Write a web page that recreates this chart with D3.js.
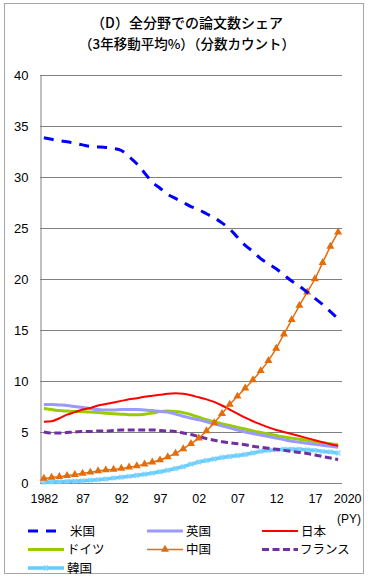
<!DOCTYPE html>
<html>
<head>
<meta charset="utf-8">
<script src="https://cdn.jsdelivr.net/npm/d3@7"></script>
<style>
  body { margin: 0; background: #fff; }
  text { font-family: Arial, "Liberation Sans", "Noto Sans CJK JP", sans-serif; fill: #000; }
  .jp { font-family: "Noto Sans CJK JP", sans-serif; }
</style>
</head>
<body>
<div class="container"></div>
<script>
// years 1982..2020
const years = d3.range(1982, 2021);
const tickYears = [1982, 1987, 1992, 1997, 2002, 2007, 2012, 2017, 2020];
const tickLabels = ["1982", "87", "92", "97", "02", "07", "12", "17", "2020"];
const yTicks = [0, 5, 10, 15, 20, 25, 30, 35, 40];

// share values (%)
const usa = [33.85, 33.7, 33.55, 33.45, 33.3, 33.15, 33.0, 32.95, 32.9, 32.8,
  32.6, 32.0, 31.3, 30.4, 29.5, 28.9, 28.3, 27.9, 27.5, 27.1,
  26.8, 26.4, 26.0, 25.5, 24.9, 24.1, 23.3, 22.7, 22.0, 21.5,
  21.0, 20.4, 19.8, 19.3, 18.7, 18.1, 17.5, 16.8, 16.1];
const uk = [7.7, 7.7, 7.65, 7.6, 7.5, 7.4, 7.3, 7.2, 7.15, 7.15,
  7.2, 7.2, 7.2, 7.15, 7.1, 7.0, 6.95, 6.75, 6.55, 6.35,
  6.2, 6.0, 5.8, 5.6, 5.4, 5.2, 5.0, 4.85, 4.7, 4.55,
  4.4, 4.25, 4.1, 4.0, 3.9, 3.8, 3.7, 3.6, 3.5];
const japan = [6.0, 6.05, 6.35, 6.7, 6.95, 7.2, 7.35, 7.6, 7.75, 7.9,
  8.05, 8.2, 8.3, 8.45, 8.55, 8.65, 8.75, 8.8, 8.75, 8.6,
  8.4, 8.2, 7.95, 7.6, 7.2, 6.8, 6.4, 6.05, 5.75, 5.45,
  5.2, 5.0, 4.8, 4.6, 4.4, 4.2, 4.0, 3.8, 3.65];
const germany = [7.3, 7.2, 7.1, 7.05, 7.0, 7.0, 6.95, 6.9, 6.85, 6.8,
  6.75, 6.7, 6.7, 6.75, 6.85, 7.0, 7.05, 7.0, 6.9, 6.7,
  6.45, 6.2, 6.0, 5.8, 5.65, 5.45, 5.3, 5.1, 4.95, 4.8,
  4.65, 4.5, 4.4, 4.3, 4.2, 4.05, 3.95, 3.85, 3.75];
const china = [0.45, 0.55, 0.62, 0.72, 0.82, 0.95, 1.05, 1.18, 1.27, 1.33,
  1.42, 1.55, 1.68, 1.85, 2.05, 2.25, 2.55, 2.9, 3.35, 3.85,
  4.4, 5.1, 5.9, 6.8, 7.7, 8.5, 9.3, 10.1, 11.0, 12.0,
  13.2, 14.6, 16.0, 17.4, 18.7, 20.0, 21.6, 23.2, 24.6];
const france = [5.0, 4.9, 4.9, 4.95, 5.0, 5.05, 5.05, 5.1, 5.1, 5.15,
  5.2, 5.2, 5.2, 5.2, 5.2, 5.15, 5.1, 5.05, 4.9, 4.75,
  4.55, 4.35, 4.2, 4.05, 3.95, 3.85, 3.75, 3.6, 3.5, 3.4,
  3.3, 3.2, 3.1, 3.0, 2.9, 2.75, 2.6, 2.45, 2.3];
const korea = [0.08, 0.1, 0.12, 0.15, 0.18, 0.22, 0.27, 0.33, 0.4, 0.48,
  0.56, 0.65, 0.75, 0.85, 0.97, 1.1, 1.25, 1.42, 1.6, 1.85,
  2.05, 2.2, 2.35, 2.5, 2.6, 2.7, 2.8, 2.95, 3.1, 3.2,
  3.25, 3.3, 3.3, 3.3, 3.25, 3.2, 3.1, 3.05, 2.95];

const series = [
  { name: "米国", values: usa, color: "#0000FF", width: 3, dash: "10,8" },
  { name: "英国", values: uk, color: "#9999FF", width: 3 },
  { name: "日本", values: japan, color: "#FF0000", width: 2 },
  { name: "ドイツ", values: germany, color: "#99CC00", width: 3 },
  { name: "中国", values: china, color: "#E46C0A", width: 1.5, marker: "tri" },
  { name: "フランス", values: france, color: "#7030A0", width: 3, dash: "7,3.5" },
  { name: "韓国", values: korea, color: "#66CCFF", width: 3.5, marker: "x" }
];

const W = 368, H = 578;
const svg = d3.select(".container").append("svg")
  .attr("width", W).attr("height", H);

// outer frame
svg.append("rect")
  .attr("x", 4.5).attr("y", 3.5).attr("width", 359).attr("height", 570)
  .attr("fill", "none").attr("stroke", "#a6a6a6").attr("stroke-width", 1);

// title
svg.append("text").attr("class", "jp")
  .attr("x", 187).attr("y", 28).attr("text-anchor", "middle")
  .attr("font-size", 14).attr("font-weight", 500)
  .text("（D）全分野での論文数シェア");
svg.append("text").attr("class", "jp")
  .attr("x", 187).attr("y", 49).attr("text-anchor", "middle")
  .attr("font-size", 13.5).attr("font-weight", 500)
  .text("（3年移動平均%）（分数カウント）");

const x = d3.scalePoint().domain(years).range([40, 342]).padding(0.5);
const y = d3.scaleLinear().domain([0, 40]).range([483, 75]);

// gridlines
svg.append("g").selectAll("line").data(yTicks.slice(1)).join("line")
  .attr("x1", 40).attr("x2", 342)
  .attr("y1", d => Math.round(y(d)) + 0.5).attr("y2", d => Math.round(y(d)) + 0.5)
  .attr("stroke", "#808080").attr("stroke-width", 1);

// y axis
const yAxis = svg.append("g").attr("transform", "translate(40.5,0)")
  .call(d3.axisLeft(y).tickValues(yTicks).tickSize(0).tickPadding(12));
yAxis.select(".domain").attr("stroke", "#808080");
yAxis.selectAll("text").attr("font-size", 13).attr("font-family", "Arial, 'Liberation Sans', sans-serif");

// x axis
const xAxis = svg.append("g").attr("transform", "translate(0,483.5)")
  .call(d3.axisBottom(x).tickValues(tickYears).tickSize(0).tickPadding(11)
    .tickFormat((d, i) => tickLabels[i]));
xAxis.select(".domain").attr("stroke", "#808080").attr("d", "M40,0H342");
xAxis.selectAll("text").attr("font-size", 12.5).attr("font-family", "Arial, 'Liberation Sans', sans-serif");
// last label sits a bit right of its point, as in the original
xAxis.selectAll(".tick").filter(d => d === 2020).select("text").attr("dx", 9);

svg.append("text").attr("x", 361).attr("y", 523).attr("text-anchor", "end")
  .attr("font-size", 12).text("(PY)");

// lines
const line = d3.line()
  .x((d, i) => x(years[i]))
  .y(d => y(d))
  .curve(d3.curveMonotoneX);

const drawOrder = [6, 5, 3, 1, 2, 4, 0];
drawOrder.forEach(k => {
  const s = series[k];
  svg.append("path")
    .datum(s.values)
    .attr("d", line)
    .attr("fill", "none")
    .attr("stroke", s.color)
    .attr("stroke-width", s.width)
    .attr("stroke-dasharray", s.dash || null);
  if (s.marker === "tri") {
    svg.append("g").selectAll("path").data(s.values).join("path")
      .attr("transform", (d, i) => `translate(${x(years[i])},${y(d)})`)
      .attr("d", d3.symbol(d3.symbolTriangle, 28))
      .attr("fill", s.color);
  }
  if (s.marker === "x") {
    svg.append("g").selectAll("path").data(s.values).join("path")
      .attr("transform", (d, i) => `translate(${x(years[i])},${y(d)}) rotate(45)`)
      .attr("d", d3.symbol(d3.symbolCross, 22))
      .attr("fill", "#7fd4ff").attr("opacity", 0.8);
  }
});

// legend
const legendPos = [
  [28, 531], [147, 531], [262, 531],
  [28, 549.5], [147, 549.5], [262, 549.5],
  [28, 568]
];
series.forEach((s, k) => {
  const [lx, ly] = legendPos[k];
  const len = (k === 0) ? 31 : 36;
  const g = svg.append("g").attr("transform", `translate(${lx},${ly})`);
  g.append("line").attr("x1", 0).attr("x2", len).attr("y1", 0).attr("y2", 0)
    .attr("stroke", s.color).attr("stroke-width", s.width)
    .attr("stroke-dasharray", s.dash || null);
  if (s.marker === "tri") {
    g.append("path").attr("transform", `translate(${len / 2},0)`)
      .attr("d", d3.symbol(d3.symbolTriangle, 28)).attr("fill", s.color);
  }
  if (s.marker === "x") {
    g.append("path").attr("transform", `translate(${len / 2},0) rotate(45)`)
      .attr("d", d3.symbol(d3.symbolCross, 22)).attr("fill", "#7fd4ff");
  }
  g.append("text").attr("class", "jp")
    .attr("x", (k === 0) ? 42 : (k === 5 ? 38 : 39)).attr("y", 4.5)
    .attr("font-size", 12.5)
    .text(s.name);
});
</script>
</body>
</html>
